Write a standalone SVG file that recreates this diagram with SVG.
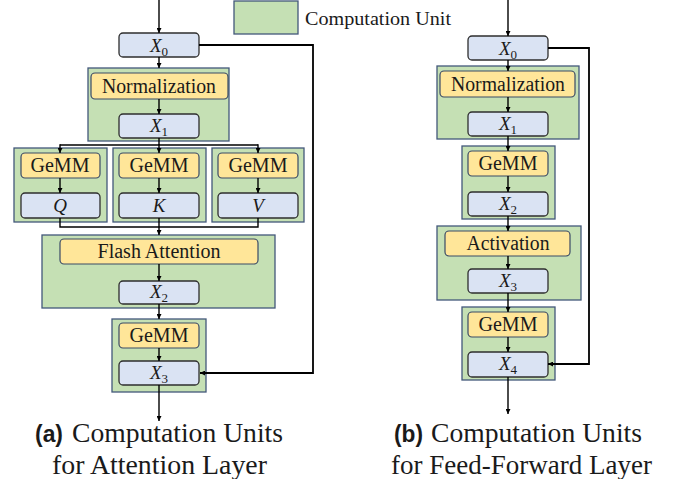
<svg xmlns="http://www.w3.org/2000/svg" width="681" height="479" viewBox="0 0 681 479">
<defs>
<marker id="ah" viewBox="0 0 10 10" refX="10" refY="5" markerWidth="5" markerHeight="5" orient="auto" markerUnits="userSpaceOnUse">
<path d="M0,0 L10,5 L0,10 z" fill="#000"/>
</marker>
<style>
.unit{fill:#c5e0b4;stroke:#42587a;stroke-width:1.3}
.op{fill:#ffe699;stroke:#3a4a66;stroke-width:1.2}
.ten{fill:#dae3f3;stroke:#2e2e2e;stroke-width:1.3}
.lbl{font-family:"Liberation Serif","DejaVu Serif",serif;font-size:20px;fill:#1a1a1a;text-anchor:middle}
.math{font-family:"Liberation Serif","DejaVu Serif",serif;font-style:italic;font-size:19px;fill:#1a1a1a;text-anchor:middle}
.sub{font-style:normal;font-size:13px}
.cap{font-family:"Liberation Serif","DejaVu Serif",serif;font-size:27px;fill:#1a1a1a}
.capb{font-family:"Liberation Sans",Arial,sans-serif;font-weight:bold;font-size:24px;fill:#1a1a1a}
.ln{fill:none;stroke:#000;stroke-width:1.4}
.arr{fill:none;stroke:#000;stroke-width:1.4;marker-end:url(#ah)}
</style>
</defs>

<g id="legend">
<rect x="234" y="1" width="64" height="33" class="unit"/>
<text x="305" y="25" textLength="146" lengthAdjust="spacingAndGlyphs" style="font-family:'Liberation Serif','DejaVu Serif',serif;font-size:19px;fill:#1a1a1a">Computation Unit</text>
</g>

<!-- Left panel -->
<g id="a-unit-norm"><rect x="88" y="68" width="141" height="73" class="unit"/></g>
<g id="a-unit-q"><rect x="14" y="148" width="93" height="74" class="unit"/></g>
<g id="a-unit-k"><rect x="113" y="148" width="93" height="74" class="unit"/></g>
<g id="a-unit-v"><rect x="212" y="148" width="92" height="74" class="unit"/></g>
<g id="a-unit-flash"><rect x="42" y="235" width="233" height="73" class="unit"/></g>
<g id="a-unit-out"><rect x="112" y="319" width="94" height="73" class="unit"/></g>

<g id="a-x0"><rect x="119" y="33" width="80" height="24" rx="4" class="ten"/><text x="159" y="52" class="math">X<tspan class="sub" dy="4">0</tspan></text></g>
<g id="a-norm"><rect x="91" y="73" width="137" height="26" rx="4" class="op"/><text x="159" y="93" class="lbl" textLength="114" lengthAdjust="spacingAndGlyphs">Normalization</text></g>
<g id="a-x1"><rect x="119" y="114" width="80" height="24" rx="4" class="ten"/><text x="159" y="132" class="math">X<tspan class="sub" dy="4">1</tspan></text></g>
<g id="a-gemm-q"><rect x="21" y="153" width="79" height="25" rx="4" class="op"/><text x="60" y="172" class="lbl" textLength="59" lengthAdjust="spacingAndGlyphs">GeMM</text></g>
<g id="a-gemm-k"><rect x="119" y="153" width="80" height="25" rx="4" class="op"/><text x="159" y="172" class="lbl" textLength="59" lengthAdjust="spacingAndGlyphs">GeMM</text></g>
<g id="a-gemm-v"><rect x="218" y="153" width="80" height="25" rx="4" class="op"/><text x="258" y="172" class="lbl" textLength="59" lengthAdjust="spacingAndGlyphs">GeMM</text></g>
<g id="a-q"><rect x="21" y="193" width="79" height="25" rx="4" class="ten"/><text x="60" y="212" class="math">Q</text></g>
<g id="a-k"><rect x="119" y="193" width="80" height="25" rx="4" class="ten"/><text x="159" y="212" class="math">K</text></g>
<g id="a-v"><rect x="218" y="193" width="80" height="25" rx="4" class="ten"/><text x="258" y="212" class="math">V</text></g>
<g id="a-flash"><rect x="60" y="239" width="198" height="25" rx="4" class="op"/><text x="159" y="258" class="lbl" textLength="123" lengthAdjust="spacingAndGlyphs">Flash Attention</text></g>
<g id="a-x2"><rect x="119" y="281" width="80" height="23" rx="4" class="ten"/><text x="159" y="298" class="math">X<tspan class="sub" dy="4">2</tspan></text></g>
<g id="a-gemm-o"><rect x="119" y="323" width="80" height="25" rx="4" class="op"/><text x="159" y="342" class="lbl" textLength="59" lengthAdjust="spacingAndGlyphs">GeMM</text></g>
<g id="a-x3"><rect x="119" y="361" width="80" height="24" rx="4" class="ten"/><text x="159" y="379" class="math">X<tspan class="sub" dy="4">3</tspan></text></g>

<!-- Right panel -->
<g id="b-unit-norm"><rect x="437" y="66" width="142" height="73" class="unit"/></g>
<g id="b-unit-gemm1"><rect x="462" y="146" width="93" height="73" class="unit"/></g>
<g id="b-unit-act"><rect x="437" y="226" width="144" height="74" class="unit"/></g>
<g id="b-unit-gemm2"><rect x="462" y="307" width="93" height="73" class="unit"/></g>

<g id="b-x0"><rect x="468" y="36" width="80" height="24" rx="4" class="ten"/><text x="508" y="55" class="math">X<tspan class="sub" dy="4">0</tspan></text></g>
<g id="b-norm"><rect x="440" y="71" width="135" height="26" rx="4" class="op"/><text x="508" y="91" class="lbl" textLength="114" lengthAdjust="spacingAndGlyphs">Normalization</text></g>
<g id="b-x1"><rect x="468" y="112" width="80" height="24" rx="4" class="ten"/><text x="508" y="130" class="math">X<tspan class="sub" dy="4">1</tspan></text></g>
<g id="b-gemm1"><rect x="468" y="151" width="80" height="25" rx="4" class="op"/><text x="508" y="170" class="lbl" textLength="59" lengthAdjust="spacingAndGlyphs">GeMM</text></g>
<g id="b-x2"><rect x="468" y="192" width="80" height="24" rx="4" class="ten"/><text x="508" y="210" class="math">X<tspan class="sub" dy="4">2</tspan></text></g>
<g id="b-act"><rect x="445" y="231" width="125" height="25" rx="4" class="op"/><text x="508" y="250" class="lbl" textLength="83" lengthAdjust="spacingAndGlyphs">Activation</text></g>
<g id="b-x3"><rect x="468" y="269" width="80" height="24" rx="4" class="ten"/><text x="508" y="287" class="math">X<tspan class="sub" dy="4">3</tspan></text></g>
<g id="b-gemm2"><rect x="468" y="312" width="80" height="25" rx="4" class="op"/><text x="508" y="331" class="lbl" textLength="59" lengthAdjust="spacingAndGlyphs">GeMM</text></g>
<g id="b-x4"><rect x="468" y="352" width="80" height="25" rx="4" class="ten"/><text x="508" y="370" class="math">X<tspan class="sub" dy="4">4</tspan></text></g>

<g id="connectors">
<!-- left -->
<line x1="159" y1="0" x2="159" y2="33" class="arr"/>
<line x1="159" y1="57" x2="159" y2="68" class="arr"/>
<line x1="159" y1="99" x2="159" y2="114" class="arr"/>
<polyline points="159,138 159,145" class="ln"/>
<polyline points="60,145 258,145" class="ln"/>
<line x1="60" y1="144.3" x2="60" y2="153" class="arr"/>
<line x1="159" y1="144.3" x2="159" y2="153" class="arr"/>
<line x1="258" y1="144.3" x2="258" y2="153" class="arr"/>
<line x1="60" y1="178" x2="60" y2="193" class="arr"/>
<line x1="159" y1="178" x2="159" y2="193" class="arr"/>
<line x1="258" y1="178" x2="258" y2="193" class="arr"/>
<polyline points="60,218 60,227 258,227 258,218" class="ln"/>
<line x1="159" y1="218" x2="159" y2="235" class="arr"/>
<line x1="159" y1="264" x2="159" y2="281" class="arr"/>
<line x1="159" y1="304" x2="159" y2="319" class="arr"/>
<line x1="159" y1="348" x2="159" y2="361" class="arr"/>
<line x1="159" y1="385" x2="159" y2="421" class="arr"/>
<polyline points="199,45 313,45 313,373 200,373" class="arr" style="stroke-width:1.8"/>
<!-- right -->
<line x1="508" y1="0" x2="508" y2="36" class="arr"/>
<line x1="508" y1="60" x2="508" y2="71" class="arr"/>
<line x1="508" y1="97" x2="508" y2="112" class="arr"/>
<line x1="508" y1="136" x2="508" y2="151" class="arr"/>
<line x1="508" y1="176" x2="508" y2="192" class="arr"/>
<line x1="508" y1="216" x2="508" y2="231" class="arr"/>
<line x1="508" y1="256" x2="508" y2="269" class="arr"/>
<line x1="508" y1="293" x2="508" y2="312" class="arr"/>
<line x1="508" y1="337" x2="508" y2="352" class="arr"/>
<line x1="508" y1="377" x2="508" y2="414" class="arr"/>
<polyline points="548,48 589,48 589,364 548,364" class="arr" style="stroke-width:1.8"/>
</g>

<g id="captions">
<text x="35" y="442" class="capb" textLength="28" lengthAdjust="spacingAndGlyphs">(a)</text>
<text x="72" y="442" class="cap" textLength="211" lengthAdjust="spacingAndGlyphs">Computation Units</text>
<text x="159.5" y="474" class="cap" text-anchor="middle" textLength="215" lengthAdjust="spacingAndGlyphs">for Attention Layer</text>
<text x="394" y="442" class="capb" textLength="29" lengthAdjust="spacingAndGlyphs">(b)</text>
<text x="431" y="442" class="cap" textLength="211" lengthAdjust="spacingAndGlyphs">Computation Units</text>
<text x="521.5" y="474" class="cap" text-anchor="middle" textLength="261" lengthAdjust="spacingAndGlyphs">for Feed-Forward Layer</text>
</g>
</svg>
